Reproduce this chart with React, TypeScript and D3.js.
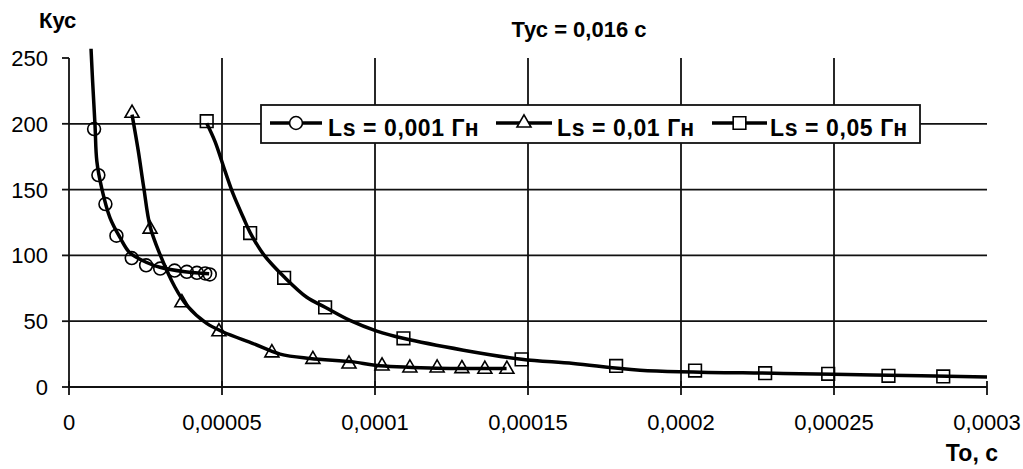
import * as d3 from 'd3'

// Кус(То) at Тус = 0,016 с, x in seconds
const xTicks = [0, 0.00005, 0.0001, 0.00015, 0.0002, 0.00025, 0.0003]
const xTickLabels = ['0', '0,00005', '0,0001', '0,00015', '0,0002', '0,00025', '0,0003']
const yTicks = [0, 50, 100, 150, 200, 250]
const yTickLabels = ['0', '50', '100', '150', '200', '250']

const seriesNames = ['Ls = 0,001 Гн', 'Ls = 0,01 Гн', 'Ls = 0,05 Гн']

// markers [To (1e-6 s), Kус]
const circlePts = [
	[8.2, 196], [9.6, 161], [11.9, 139], [15.5, 115], [20.5, 98], [25.2, 92.5],
	[29.8, 90], [34.5, 88.5], [38.5, 87.5], [41.8, 86.8], [44.5, 86.3], [46.0, 85.5],
]
const trianglePts = [
	[20.6, 208], [26.5, 120], [36.9, 64], [49.0, 42], [66.3, 26], [79.7, 21],
	[91.5, 17.5], [102.3, 16], [111.4, 14.5], [120.3, 14.5], [128.4, 14], [135.9, 13.5], [143.1, 13.5],
]
const squarePts = [
	[45.0, 202], [59.2, 117], [70.3, 83], [83.7, 60.5], [109.3, 37], [147.9, 21],
	[178.8, 16], [204.6, 12.5], [227.5, 10.5], [248.1, 10], [267.8, 8.5], [285.7, 8],
]

// smoothed curves
const circleLine = [
	[7.2, 257], [7.7, 233], [8.5, 199], [9.1, 171.5], [10.7, 151], [13.4, 128.6],
	[16.7, 113.5], [19.9, 102], [25.4, 94.6], [29.7, 91], [37.9, 87.6], [45.8, 86],
]
const triangleLine = [
	[20.6, 207], [22.6, 180], [24.4, 152], [26.5, 122], [29.7, 101], [34.6, 76],
	[38.5, 62], [45.0, 48.3], [50.4, 41.8], [60.2, 33], [69.0, 25], [78.8, 21.7],
	[92.9, 19.1], [100, 16.6], [118, 14.5], [143, 14],
]
const squareLine = [
	[45.0, 200.4], [47.7, 186.6], [51.0, 164], [53.7, 146.3], [57.0, 128.6], [59.2, 117.3],
	[63.5, 101], [70.6, 83], [77.7, 68.2], [83.7, 60.6], [91.8, 50.6], [100.6, 42.5],
	[109.2, 37], [128.9, 28], [147.9, 21.1], [164.8, 17.9], [186.6, 12.8], [233.4, 10.3],
	[262.8, 9.1], [300, 7.6],
]

const W = 1023
const H = 469
const ink = '#111'
const font = 'Arial, "Liberation Sans", sans-serif'

export default function App() {
	const x = d3.scaleLinear().domain([0, 0.0003]).range([69, 987])
	const y = d3.scaleLinear().domain([0, 250]).range([387, 58])
	const px = (d: number[]) => x(d[0] * 1e-6)
	const py = (d: number[]) => y(d[1])

	const line = d3
		.line<number[]>()
		.x(px)
		.y(py)
		.curve(d3.curveCatmullRom.alpha(0.5))

	const circle = d3.symbol(d3.symbolCircle, 130)()
	const triangle = d3.symbol(d3.symbolTriangle, 85)()
	const square = d3.symbol(d3.symbolSquare, 160)()
	const symbols = [circle, triangle, square]
	const pts = [circlePts, trianglePts, squarePts]
	const curves = [circleLine, triangleLine, squareLine]

	const legendLines = [
		[270, 322],
		[496, 552],
		[712, 767],
	]
	const legendText = [328, 557, 770]

	return (
		<svg
			width={W}
			height={H}
			style={{ position: 'absolute', left: 0, top: 0, background: '#fff' }}
			fontFamily={font}
		>
			<rect width={W} height={H} fill="#fff" />
			{/* grid */}
			{yTicks.slice(1, -1).map((t) => (
				<line key={'h' + t} x1={x(0)} x2={x(0.0003)} y1={y(t)} y2={y(t)} stroke={ink} strokeWidth={1.8} />
			))}
			{xTicks.slice(1, -1).map((t) => (
				<line key={'v' + t} x1={x(t)} x2={x(t)} y1={y(250)} y2={y(0)} stroke={ink} strokeWidth={1.8} />
			))}
			{/* axes */}
			<line x1={x(0)} x2={x(0)} y1={y(250)} y2={y(0)} stroke={ink} strokeWidth={1.8} />
			<line x1={x(0)} x2={x(0.0003)} y1={y(0)} y2={y(0)} stroke={ink} strokeWidth={1.8} />
			{yTicks.map((t, i) => (
				<g key={'yt' + t}>
					<line x1={x(0) - 7} x2={x(0)} y1={y(t)} y2={y(t)} stroke={ink} strokeWidth={1.8} />
					<text x={48} y={y(t)} dy="0.36em" textAnchor="end" fontSize={22}>
						{yTickLabels[i]}
					</text>
				</g>
			))}
			{xTicks.map((t, i) => (
				<g key={'xt' + t}>
					<line x1={x(t)} x2={x(t)} y1={y(0) - 6} y2={y(0) + 8} stroke={ink} strokeWidth={1.8} />
					<text x={x(t)} y={430} textAnchor="middle" fontSize={22}>
						{xTickLabels[i]}
					</text>
				</g>
			))}

			{/* curves */}
			{curves.map((c, i) => (
				<path key={'c' + i} d={line(c) || ''} fill="none" stroke="#000" strokeWidth={3.5} />
			))}
			{pts.map((p, i) =>
				p.map((d, j) => (
					<path
						key={'m' + i + '-' + j}
						d={symbols[i] || ''}
						transform={`translate(${px(d)},${py(d)})`}
						fill="none"
						stroke="#000"
						strokeWidth={1.6}
					/>
				))
			)}

			{/* titles */}
			<text x={579} y={37} textAnchor="middle" fontSize={22} fontWeight="bold">
				Тус = 0,016 с
			</text>
			<text x={39} y={28} fontSize={22} fontWeight="bold">
				Кус
			</text>
			<text x={998} y={461} textAnchor="end" fontSize={23} fontWeight="bold">
				То, с
			</text>

			{/* legend */}
			<rect x={261} y={105} width={659} height={38} fill="#fff" stroke={ink} strokeWidth={1.8} />
			{seriesNames.map((name, i) => (
				<g key={'lg' + i}>
					<line
						x1={legendLines[i][0]}
						x2={legendLines[i][1]}
						y1={123}
						y2={123}
						stroke="#000"
						strokeWidth={3.5}
					/>
					<path
						d={symbols[i] || ''}
						transform={`translate(${(legendLines[i][0] + legendLines[i][1]) / 2},123)`}
						fill="#fff"
						stroke="#000"
						strokeWidth={1.6}
					/>
					<text x={legendText[i]} y={136} fontSize={23} fontWeight="bold" letterSpacing={0.6}>
						{name}
					</text>
				</g>
			))}
		</svg>
	)
}
